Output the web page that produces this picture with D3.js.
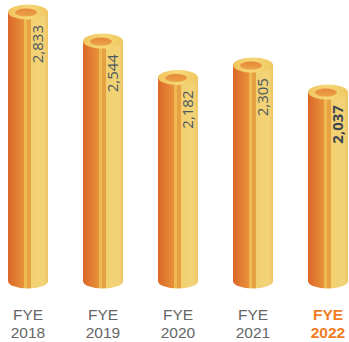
<!DOCTYPE html>
<html><head><meta charset="utf-8">
<script src="https://cdn.jsdelivr.net/npm/d3@7"></script>
<style>body{margin:0;background:#fff}svg{display:block}</style>
</head><body>
<script>
const years = ["2018","2019","2020","2021","2022"];
const prefix = ["FYE","FYE","FYE","FYE","FYE"];
const values = [2833,2544,2182,2305,2037];
const labels = ["2,833","2,544","2,182","2,305","2,037"];

const W=349,H=342;
const svg=d3.select("body").append("svg").attr("width",W).attr("height",H);
const x=d3.scaleBand().domain(years).range([8,348]).paddingInner(35/75).paddingOuter(0);
const y=d3.scaleLinear().domain([0,2833]).range([297,12]);
const baseY=281;
const defs=svg.append("defs");
const bodyG=defs.append("linearGradient").attr("id","bodyG");
[[0,"#db6729"],[0.4,"#e8923b"],[0.4,"#efba52"],[0.47,"#efba52"],[0.47,"#e6a242"],[0.57,"#e6a242"],[0.57,"#f1d070"],[0.9,"#f2d478"],[1,"#eec262"]]
 .forEach(s=>bodyG.append("stop").attr("offset",s[0]).attr("stop-color",s[1]));
const topG=defs.append("linearGradient").attr("id","topG").attr("x1",0).attr("y1",0).attr("x2",1).attr("y2",0);
[[0,"#f0c45e"],[0.5,"#f6d878"],[1,"#f0c862"]].forEach(s=>topG.append("stop").attr("offset",s[0]).attr("stop-color",s[1]));
const holeG=defs.append("linearGradient").attr("id","holeG").attr("x1",0).attr("y1",0).attr("x2",0).attr("y2",1);
[[0,"#e5883a"],[1,"#eca447"]].forEach(s=>holeG.append("stop").attr("offset",s[0]).attr("stop-color",s[1]));

const bw=x.bandwidth(), rx=bw/2, ry=7.5;
const g=svg.selectAll("g.bar").data(values).join("g").attr("class","bar");
g.append("path").attr("fill","url(#bodyG)").attr("d",(d,i)=>{
  const x0=x(years[i]), t=y(d);
  return `M${x0},${t} L${x0},${baseY} A${rx},${ry} 0 0 0 ${x0+bw},${baseY} L${x0+bw},${t} Z`;
});
g.append("ellipse").attr("fill","url(#topG)")
 .attr("cx",(d,i)=>x(years[i])+rx).attr("cy",d=>y(d)).attr("rx",rx).attr("ry",ry);
g.append("ellipse").attr("fill","url(#holeG)")
 .attr("cx",(d,i)=>x(years[i])+rx-2).attr("cy",d=>y(d)+0.5).attr("rx",rx*0.55).attr("ry",4);
g.append("text").attr("transform",(d,i)=>`translate(${x(years[i])+rx+15},${y(d)+13}) rotate(-90)`)
 .attr("text-anchor","end").attr("font-family","'Open Sans',sans-serif").attr("font-size",15)
 .attr("font-weight",(d,i)=>i===4?"bold":"normal")
 .attr("fill",(d,i)=>i===4?"#3e4650":"#505760").text((d,i)=>labels[i]);

const lab=svg.selectAll("g.lab").data(years).join("g").attr("class","lab");
lab.append("text").attr("x",d=>x(d)+rx).attr("y",320).text((d,i)=>prefix[i]);
lab.append("text").attr("x",d=>x(d)+rx).attr("y",338).text(d=>d);
lab.selectAll("text").attr("text-anchor","middle").attr("font-family","'Liberation Sans',Arial,sans-serif")
 .attr("font-size",15.5).attr("fill",function(){return d3.select(this.parentNode).datum()==="2022"?"#f07d24":"#666666";})
 .attr("font-weight",function(){return d3.select(this.parentNode).datum()==="2022"?"bold":"normal";});
</script>
</body></html>
